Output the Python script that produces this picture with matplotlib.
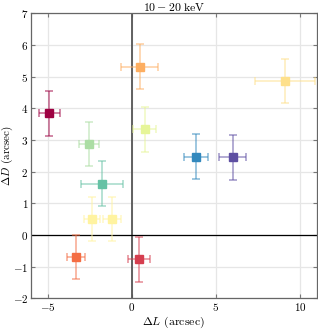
import numpy as np
import matplotlib
matplotlib.use("Agg")
import matplotlib.pyplot as plt

plt.rcParams['font.family'] = 'serif'
plt.rcParams['font.serif'] = ['cmr10']
plt.rcParams['mathtext.fontset'] = 'cm'
plt.rcParams['axes.formatter.use_mathtext'] = True
plt.rcParams['font.size'] = 8

# offsets (arcsec) and their uncertainties
dL = [-4.9, -2.56, 0.46, 0.76, 9.09, 3.81, 5.99, -1.76, -2.36, -1.17, -3.31, 0.42]
dD = [3.85, 2.87, 5.31, 3.34, 4.86, 2.47, 2.45, 1.62, 0.50, 0.51, -0.69, -0.76]
dL_err = [0.6, 0.6, 1.09, 0.7, 1.78, 0.7, 0.82, 1.25, 0.47, 0.55, 0.55, 0.65]
dD_err = [0.71, 0.70, 0.71, 0.71, 0.70, 0.71, 0.71, 0.70, 0.70, 0.70, 0.70, 0.71]
colors = ['#9e0142', '#abdda4', '#fdae61', '#e6f598', '#fee08b', '#3288bd',
          '#5e4fa2', '#66c2a5', '#fff3a0', '#fff3a0', '#f46d43', '#d53e4f']

fig = plt.figure(figsize=(3.18, 3.32), dpi=100)
ax = fig.add_axes([0.0975, 0.1015, 0.8985, 0.8585])

ax.axvline(0, color='#555555', lw=1.3, zorder=1)
ax.axhline(0, color='black', lw=0.9, zorder=1)

for x, y, xe, ye, c in zip(dL, dD, dL_err, dD_err, colors):
    ax.errorbar(x, y, xerr=xe, yerr=ye, fmt='none', ecolor=c, alpha=0.6,
                elinewidth=1.1, capsize=3, capthick=1.1, zorder=2)
    ax.plot(x, y, 's', color=c, ms=5.5, mec=c, zorder=3)

ax.set_xlim(-6, 11)
ax.set_ylim(-2, 7)
ax.set_xticks([-5, 0, 5, 10])
ax.set_yticks(range(-2, 8))
ax.grid(True, color='#e6e6e6', lw=0.9)
ax.set_axisbelow(True)
ax.tick_params(direction='in', top=True, right=True, length=3,
               color='#777777', labelsize=8, pad=2)
for s in ax.spines.values():
    s.set_color('#666666')
    s.set_linewidth(0.9)

ax.set_xlabel(r'$\Delta L$ (arcsec)', fontsize=8.5, labelpad=1)
ax.set_ylabel(r'$\Delta D$ (arcsec)', fontsize=8)
ax.yaxis.set_label_coords(-0.055, 0.5)
ax.set_title(r'$10 - 20\ \mathrm{keV}$', fontsize=8.5, pad=2)

fig.savefig('out.png', dpi=100)
